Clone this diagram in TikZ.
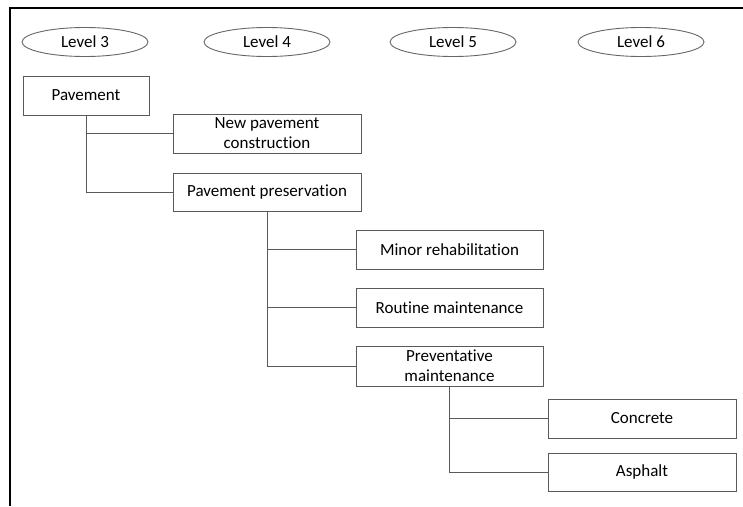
\documentclass[tikz,border=0pt]{standalone}
\usepackage{fontspec}
\setmainfont[Ligatures=NoCommon]{Carlito}
\usetikzlibrary{shapes.geometric}
\begin{document}
\begin{tikzpicture}[x=1pt,y=-1pt,
  font=\fontsize{17}{20}\selectfont,
  levelmark/.style={ellipse,draw=black!60,line width=0.9pt,minimum width=126pt,minimum height=29pt,inner sep=0pt},
  itembox/.style={rectangle,draw=black!65,line width=0.9pt,minimum width=188pt,minimum height=39pt,inner sep=0pt,align=center},
  branch/.style={draw=black!65,line width=0.9pt}]
\useasboundingbox (0,0) rectangle (743,506);
% frame on the top and left edges
\draw[line width=2pt] (10,506) -- (10,8) -- (743,8);

% level headers
\node[levelmark] (l3) at (85,42) {Level 3};
\node[levelmark] (l4) at (267,42) {Level 4};
\node[levelmark] (l5) at (453,42) {Level 5};
\node[levelmark] (l6) at (641,42) {Level 6};

% hierarchy boxes
\node[itembox,minimum width=126pt] (pav) at (86,95.5) {Pavement};
\node[itembox] (new) at (267,133.5) {New pavement\\construction};
\node[itembox,minimum height=38pt] (pres) at (267,192) {Pavement preservation};
\node[itembox,minimum width=187pt] (minor) at (449.5,249.5) {Minor rehabilitation};
\node[itembox,minimum width=187pt] (rout) at (449.5,307.5) {Routine maintenance};
\node[itembox,minimum width=187pt,minimum height=40pt] (prev) at (449.5,366) {Preventative\\maintenance};
\node[itembox] (conc) at (642,418.5) {Concrete};
\node[itembox,minimum height=38pt] (asph) at (642,472) {Asphalt};

% tree connectors
\draw[branch] (pav.south) |- (new.west);
\draw[branch] (pav.south) |- (pres.west);
\draw[branch] (pres.south) |- (minor.west);
\draw[branch] (pres.south) |- (rout.west);
\draw[branch] (pres.south) |- (prev.west);
\draw[branch] (prev.south) |- (conc.west);
\draw[branch] (prev.south) |- (asph.west);
\end{tikzpicture}
\end{document}
